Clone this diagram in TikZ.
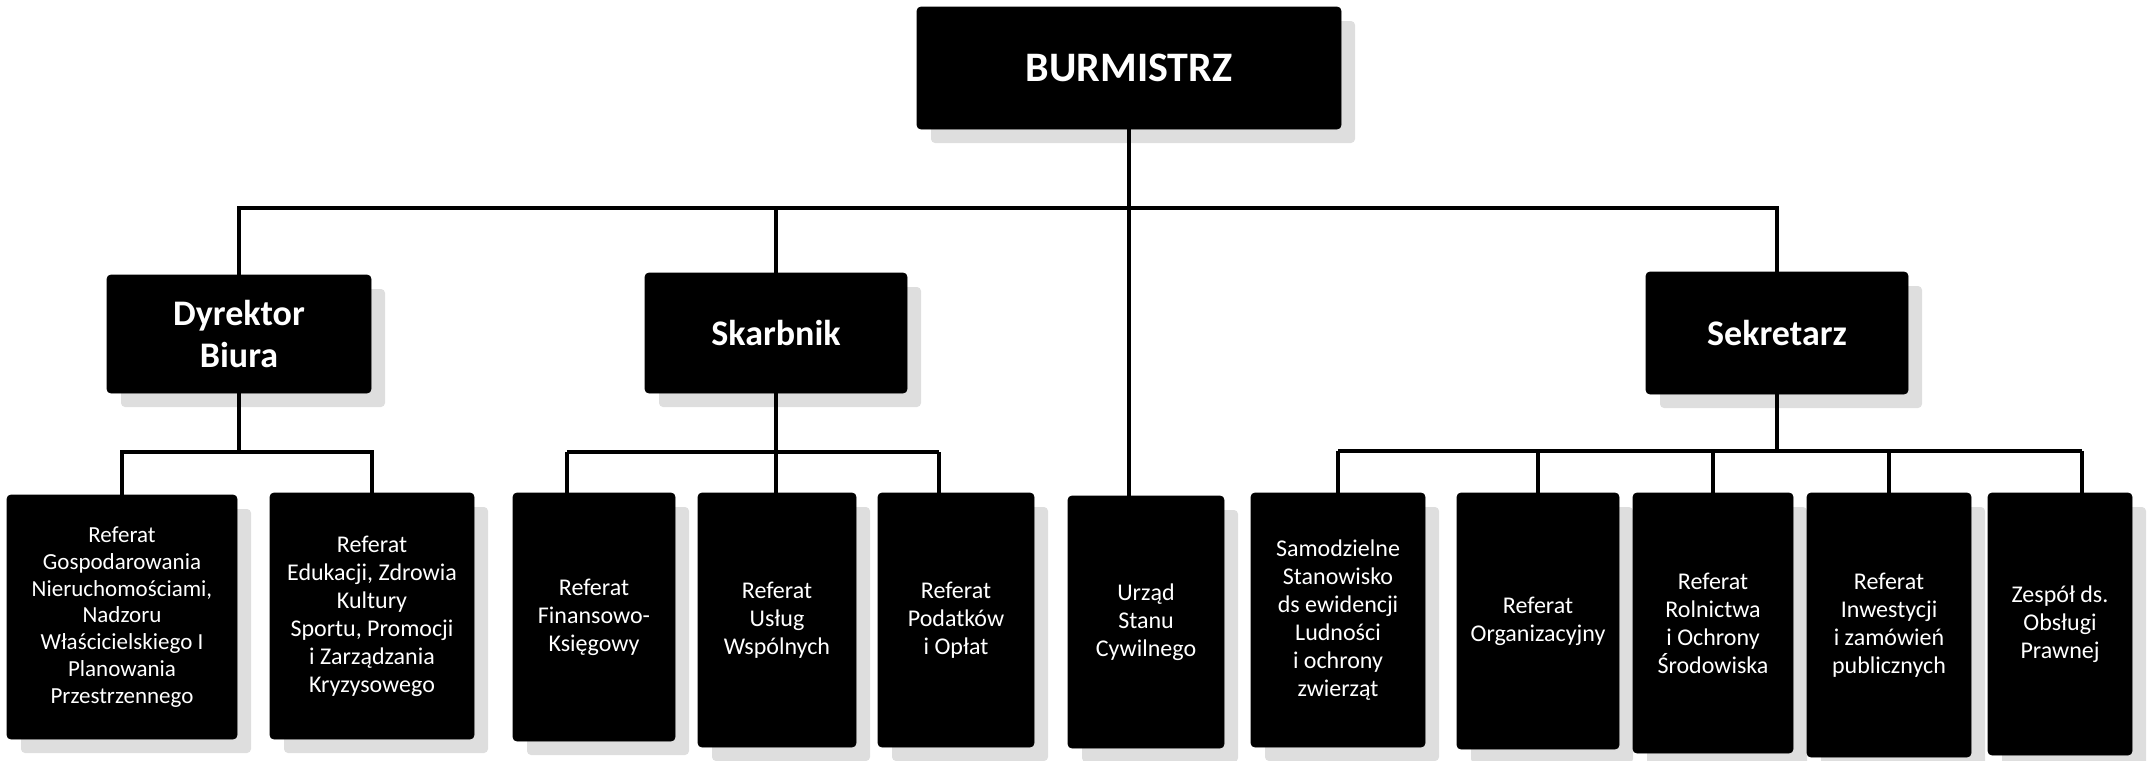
\documentclass[tikz,border=0pt]{standalone}
\usepackage{fontspec}
\setmainfont{Carlito}
\usetikzlibrary{shadows}
\definecolor{white}{RGB}{255,255,255}
\definecolor{black}{RGB}{0,0,0}
\definecolor{shadow_gray}{RGB}{222,222,222}
\tikzset{
	boxnode/.style={rectangle,rounded corners=2pt,draw=black,fill=black,text=white,align=center,inner sep=2pt,
		drop shadow={shadow xshift=7pt,shadow yshift=-7pt,fill=shadow_gray,opacity=1}},
	topbox/.style={boxnode,font=\fontsize{21}{25}\selectfont\bfseries},
	headbox/.style={boxnode,font=\fontsize{18}{21}\selectfont\bfseries},
	unitbox/.style={boxnode,font=\fontsize{12}{14}\selectfont},
	link/.style={black,line width=1.7pt}
}
\begin{document}
\begin{tikzpicture}[x=0.5pt,y=-0.5pt]
	\useasboundingbox (0,0) rectangle (2156,760);
	% levels 1 and 2
	\node[topbox,minimum width=212pt,minimum height=61pt] (burm) at (1129,68) {BURMISTRZ};
	\node[headbox,minimum width=132pt,minimum height=59pt] (dyr) at (239,334) {Dyrektor\\Biura};
	\node[headbox,minimum width=131pt,minimum height=60pt] (skarb) at (776,333) {Skarbnik};
	\node[headbox,minimum width=131pt,minimum height=61pt] (sekr) at (1777,333) {Sekretarz};
	% level 3
	\node[unitbox,font=\fontsize{11.5}{13.4}\selectfont,minimum width=115pt,minimum height=122pt] (gosp) at (122,617) {Referat\\Gospodarowania\\Nieruchomościami,\\Nadzoru\\Właścicielskiego I\\Planowania\\Przestrzennego};
	\node[unitbox,minimum width=102pt,minimum height=123pt] (eduk) at (372,616) {Referat\\Edukacji, Zdrowia\\Kultury\\Sportu, Promocji\\i Zarządzania\\Kryzysowego};
	\node[unitbox,minimum width=81pt,minimum height=124pt] (fin) at (594,617) {Referat\\Finansowo-\\Księgowy};
	\node[unitbox,minimum width=79pt,minimum height=127pt] (uslug) at (777,620) {Referat\\Usług\\Wspólnych};
	\node[unitbox,minimum width=78pt,minimum height=127pt] (podat) at (956,620) {Referat\\Podatków\\i Opłat};
	\node[unitbox,minimum width=78pt,minimum height=126pt] (urzad) at (1146,622) {Urząd\\Stanu\\Cywilnego};
	\node[unitbox,minimum width=87pt,minimum height=127pt] (samodz) at (1338,620) {Samodzielne\\Stanowisko\\ds ewidencji\\Ludności\\i ochrony\\zwierząt};
	\node[unitbox,minimum width=81pt,minimum height=128pt] (org) at (1538,621) {Referat\\Organizacyjny};
	\node[unitbox,minimum width=80pt,minimum height=130pt] (rol) at (1713,623) {Referat\\Rolnictwa\\i Ochrony\\Środowiska};
	\node[unitbox,minimum width=82pt,minimum height=132pt] (inw) at (1889,625) {Referat\\Inwestycji\\i zamówień\\publicznych};
	\node[unitbox,minimum width=72pt,minimum height=131pt] (zesp) at (2060,624) {Zespół ds.\\Obsługi\\Prawnej};
	% bus lines
	\coordinate (topbus) at (0,208);
	\coordinate (dyrbus) at (0,452);
	\coordinate (sekrbus) at (0,451);
	\coordinate (finjoin) at (567,452);
	\coordinate (podjoin) at (939,452);
	\coordinate (zespjoin) at (2082,451);
	
	\draw[link] (dyr.north) |- (sekr.north |- topbus) -- (sekr.north);
	\draw[link] (skarb.north) -- (skarb.north |- topbus);
	\draw[link] (burm.south) -- (burm.south |- urzad.north);
	
	\draw[link] (gosp.north) |- (eduk.north |- dyrbus) -- (eduk.north);
	\draw[link] (dyr.south) -- (dyr.south |- dyrbus);
	
	\draw[link] (finjoin) -- (podjoin);
	\draw[link] (skarb.south) -- (skarb.south |- uslug.north);
	\foreach \x/\y in {finjoin/fin,podjoin/podat}
		\draw[link] (\x) -- (\x |- \y.north);
	
	\draw[link] (samodz.north |- sekrbus) -- (zespjoin);
	\draw[link] (sekr.south) -- (sekr.south |- sekrbus);
	\draw[link] (zespjoin) -- (zespjoin |- zesp.north);
	\foreach \x in {samodz,org,rol,inw}
		\draw[link] (\x.north) -- (\x.north |- sekrbus);
\end{tikzpicture}
\end{document}
